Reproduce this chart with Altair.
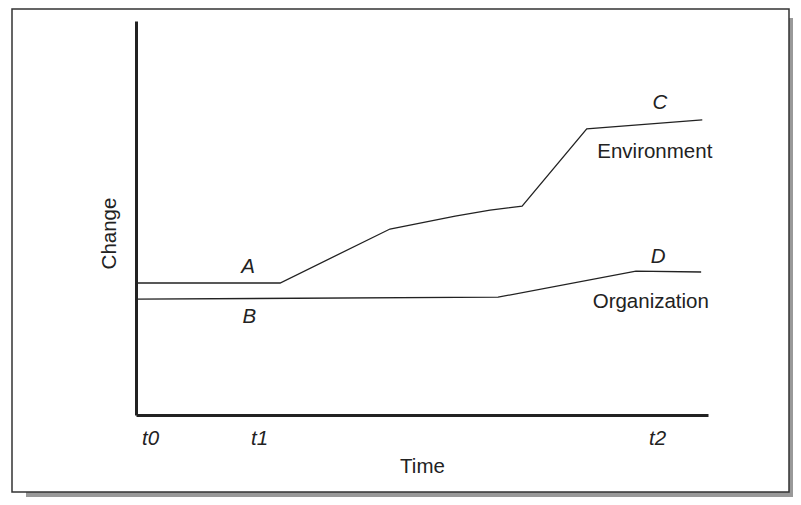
import altair as alt
import pandas as pd

# Environment curve (Time, Change)
env_time = [0, 25.2, 44.4, 55.8, 61.9, 67.5, 78.8, 99.0]
env_change = [33.5, 33.5, 47.2, 50.5, 52.0, 53.0, 72.6, 74.9]
# Organization curve
org_time = [0, 63.3, 87.4, 98.8]
org_change = [29.4, 29.9, 36.5, 36.3]

# Annotations
lab_text = ["A", "B", "C", "D"]
lab_time = [19.6, 19.8, 91.6, 91.3]
lab_change = [37.6, 24.9, 79.2, 40.1]
name_text = ["Environment", "Organization"]
name_time = [90.7, 90.0]
name_change = [66.8, 28.7]

tick_values = [2.45, 21.5, 91.1]
tick_labels = ["t0", "t1", "t2"]

FONT = "Liberation Sans"
INK = "#222222"
FS = 20.5

lines = pd.DataFrame(
    {"Time": env_time + org_time,
     "Change": env_change + org_change,
     "series": ["Environment"] * len(env_time) + ["Organization"] * len(org_time),
     "order": list(range(len(env_time))) + list(range(len(org_time)))}
)
labels = pd.DataFrame({"Time": lab_time, "Change": lab_change, "text": lab_text})
names = pd.DataFrame({"Time": name_time, "Change": name_change, "text": name_text})

xscale = alt.Scale(domain=[0, 100], nice=False, zero=False)
yscale = alt.Scale(domain=[0, 100], nice=False, zero=False)

label_expr = "datum.value < 10 ? 't0' : (datum.value < 50 ? 't1' : 't2')"

one = pd.DataFrame({"a": [0]})
shadow = alt.Chart(one).mark_rect(fill="#999999").encode(
    x=alt.value(-110), x2=alt.value(657), y=alt.value(-3), y2=alt.value(476)
)
box = alt.Chart(one).mark_rect(fill="white", stroke="#333333", strokeWidth=1.5).encode(
    x=alt.value(-124), x2=alt.value(653), y=alt.value(-12), y2=alt.value(471)
)

line_chart = alt.Chart(lines).mark_line(color=INK, strokeWidth=1.3).encode(
    x=alt.X("Time:Q", scale=xscale,
            axis=alt.Axis(title="Time", values=tick_values, labelExpr=label_expr,
                          ticks=False, grid=False, domainWidth=3, domainColor=INK,
                          labelFont=FONT, labelFontSize=FS, labelFontStyle="italic",
                          labelColor=INK, labelPadding=13, titleFont=FONT,
                          titleFontSize=FS, titleFontWeight="normal", titleColor=INK,
                          titlePadding=8, zindex=1)),
    y=alt.Y("Change:Q", scale=yscale,
            axis=alt.Axis(title="Change", labels=False, ticks=False, grid=False,
                          domainWidth=3, domainColor=INK, titleFont=FONT,
                          titleFontSize=FS, titleFontWeight="normal", titleColor=INK,
                          titlePadding=17, titleY=212, zindex=1)),
    detail="series:N",
    order="order:Q",
)

letter_chart = alt.Chart(labels).mark_text(
    font=FONT, fontSize=FS, fontStyle="italic", color=INK, baseline="middle", align="center"
).encode(x=alt.X("Time:Q", scale=xscale), y=alt.Y("Change:Q", scale=yscale), text="text:N")

name_chart = alt.Chart(names).mark_text(
    font=FONT, fontSize=FS, color=INK, baseline="middle", align="center"
).encode(x=alt.X("Time:Q", scale=xscale), y=alt.Y("Change:Q", scale=yscale), text="text:N")

chart = alt.layer(shadow, box, line_chart, letter_chart, name_chart).properties(
    width=572, height=394,
    autosize=alt.AutoSizeParams(type="none"),
    padding={"left": 128, "top": 13, "right": 85, "bottom": 82},
    background="white",
).configure_view(stroke=None)

chart.save("out.html", embed_options={"renderer": "svg", "actions": False})
